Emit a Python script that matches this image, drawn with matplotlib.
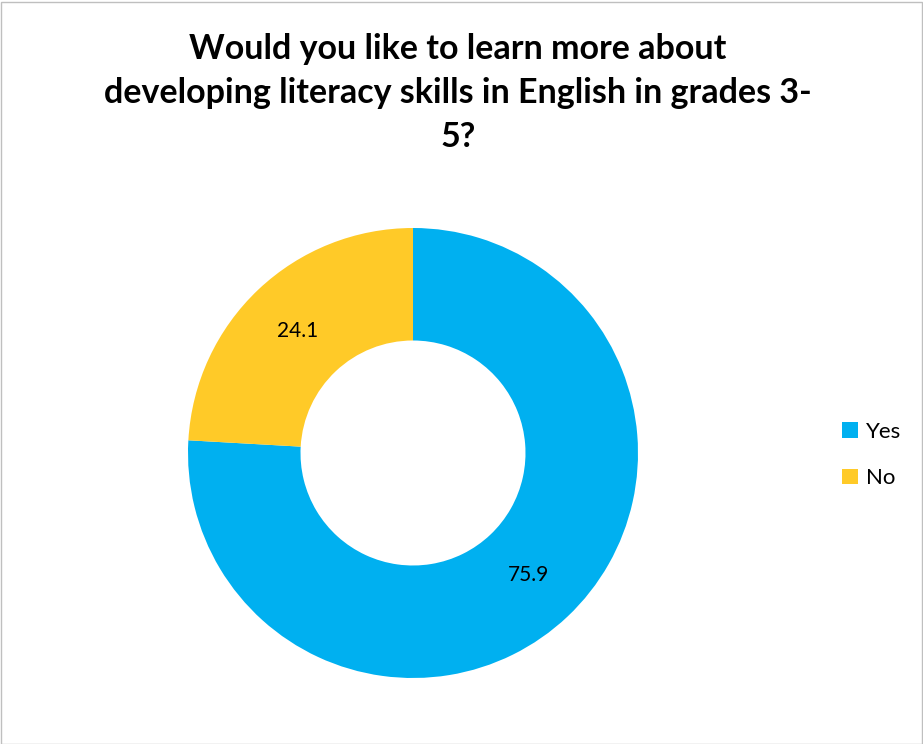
import matplotlib
matplotlib.use("Agg")
import numpy as np
import matplotlib.pyplot as plt
from matplotlib.patches import Rectangle

plt.rcParams['font.family'] = ['Lato', 'DejaVu Sans']

labels = ["Yes", "No"]
values = [75.9, 24.1]
colors = ["#00B0F0", "#FFCA28"]
title = "Would you like to learn more about\ndeveloping literacy skills in English in grades 3-\n5?"

W, H = 923, 744
fig = plt.figure(figsize=(W / 100, H / 100), dpi=100)
fig.patch.set_facecolor("white")

# outer frame
fig.patches.append(Rectangle((0.5 / W, 0.5 / H), 1 - 2 / W, 1 - 2 / H, transform=fig.transFigure,
                             fill=False, edgecolor="#BFBFBF", linewidth=1))

cx, cy, r = 413, 453, 225
ax = fig.add_axes([(cx - r) / W, (H - cy - r) / H, 2 * r / W, 2 * r / H])
wedges, texts = ax.pie(values, colors=colors, startangle=90, counterclock=False,
                       radius=1, wedgeprops=dict(width=0.5, linewidth=0))
# value labels in the middle of the ring
for w, v in zip(wedges, values):
    ang = np.deg2rad((w.theta1 + w.theta2) / 2)
    ax.text(0.745 * np.cos(ang), 0.745 * np.sin(ang), f"{v}", ha="center", va="center",
            fontsize=15, color="black")
ax.set_xlim(-1, 1)
ax.set_ylim(-1, 1)
ax.set_aspect("equal")
ax.axis("off")

fig.text(458 / W, 1 - 93 / H, title, ha="center", va="center", fontsize=24.5,
         fontweight="bold", linespacing=1.45)

fig.legend(wedges, labels, loc="center left", bbox_to_anchor=(822 / W, 1 - 455 / H),
           frameon=False, fontsize=16, handlelength=0.7, handleheight=0.7,
           handletextpad=0.4, labelspacing=1.2)

fig.savefig("out.png", dpi=100)
